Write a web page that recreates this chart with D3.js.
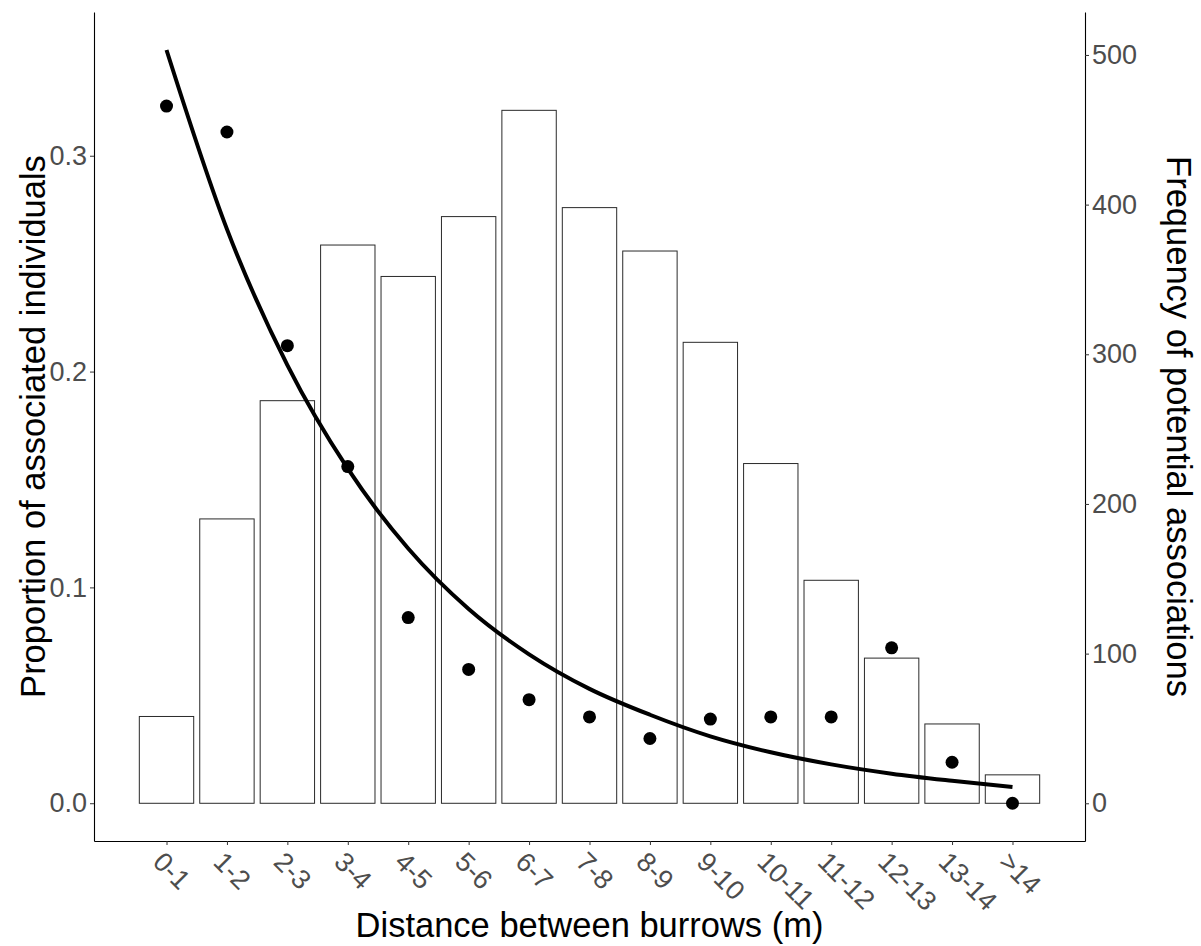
<!DOCTYPE html>
<html>
<head>
<meta charset="utf-8">
<script src="https://cdn.jsdelivr.net/npm/d3@7"></script>
<style>
  body { margin: 0; background: #fff; }
  text { font-family: "Liberation Sans", Arial, sans-serif; }
</style>
</head>
<body>
<div id="d3-container"></div>
<script>
/**
 * CONSTANTS AND GLOBALS
 * */
const width = 1201,
  height = 946,
  margin = { top: 12, bottom: 105, left: 94, right: 116 };

// data
const categories = ["0-1", "1-2", "2-3", "3-4", "4-5", "5-6", "6-7", "7-8",
  "8-9", "9-10", "10-11", "11-12", "12-13", "13-14", ">14"];
// frequency of potential associations (bars, right axis)
const frequency = [58, 190, 269, 373, 352, 392, 463, 398, 369, 308, 227, 149, 97, 53, 19];
// proportion of associated individuals (points, left axis)
const proportion = [0.323, 0.311, 0.212, 0.156, 0.086, 0.062, 0.048, 0.040,
  0.030, 0.039, 0.040, 0.040, 0.072, 0.019, 0.0];
// fitted decay curve, read at each class centre
const fitted = [0.349, 0.266, 0.203, 0.155, 0.118, 0.090, 0.069, 0.053,
  0.041, 0.031, 0.0236, 0.018, 0.0137, 0.0104, 0.0075];

const leftTicks = [0, 0.1, 0.2, 0.3];
const rightTicks = [0, 100, 200, 300, 400, 500];

let svg;

init();

function init() {
  const plotLeft = margin.left,
    plotRight = width - margin.right,
    plotTop = margin.top,
    plotBottom = height - margin.bottom;

  const x = d3.scalePoint()
    .domain(categories)
    .range([plotLeft, plotRight])
    .padding(1.2);

  const yL = d3.scaleLinear()
    .domain([-0.0175, 0.3666])
    .range([plotBottom, plotTop]);

  const yR = d3.scaleLinear()
    .domain([-25.2, 528.7])
    .range([plotBottom, plotTop]);

  const barWidth = x.step() * 0.9;

  svg = d3.select("#d3-container")
    .append("svg")
    .attr("width", width)
    .attr("height", height);

  // bars
  svg.append("g")
    .selectAll("rect")
    .data(categories)
    .join("rect")
    .attr("x", d => x(d) - barWidth / 2)
    .attr("y", (d, i) => yR(frequency[i]))
    .attr("width", barWidth)
    .attr("height", (d, i) => yR(0) - yR(frequency[i]))
    .attr("fill", "#fff")
    .attr("stroke", "#2a2a2a")
    .attr("stroke-width", 1);

  // fitted curve
  const line = d3.line()
    .x((d, i) => x(categories[i]))
    .y(d => yL(d))
    .curve(d3.curveMonotoneX);

  svg.append("path")
    .datum(fitted)
    .attr("d", line)
    .attr("fill", "none")
    .attr("stroke", "#000")
    .attr("stroke-width", 4);

  // points
  svg.append("g")
    .selectAll("circle")
    .data(categories)
    .join("circle")
    .attr("cx", d => x(d))
    .attr("cy", (d, i) => yL(proportion[i]))
    .attr("r", 6.5)
    .attr("fill", "#000");

  // axes
  const styleAxis = g => {
    g.select(".domain").attr("stroke", "#000").attr("stroke-width", 1.1);
    g.selectAll(".tick line").attr("stroke", "#333").attr("stroke-width", 1);
    g.selectAll(".tick text")
      .attr("fill", "#4d4d4d")
      .style("font-size", "27px")
      .style("font-family", "'Liberation Sans', Arial, sans-serif");
  };

  svg.append("g")
    .attr("transform", `translate(${plotLeft},0)`)
    .call(d3.axisLeft(yL).tickValues(leftTicks).tickFormat(d3.format(".1f"))
      .tickSize(4).tickSizeOuter(0).tickPadding(3))
    .call(styleAxis);

  svg.append("g")
    .attr("transform", `translate(${plotRight},0)`)
    .call(d3.axisRight(yR).tickValues(rightTicks)
      .tickSize(4).tickSizeOuter(0).tickPadding(3))
    .call(styleAxis);

  const xAxis = svg.append("g")
    .attr("transform", `translate(0,${plotBottom})`)
    .call(d3.axisBottom(x).tickSize(4).tickSizeOuter(0))
    .call(styleAxis);

  xAxis.selectAll(".tick text")
    .attr("x", 0)
    .attr("y", 0)
    .attr("dy", "0.71em")
    .attr("text-anchor", "start")
    .attr("transform", "translate(-2,9) rotate(45)");

  // titles
  const midY = (plotTop + plotBottom) / 2;

  svg.append("text")
    .attr("transform", `translate(45,${midY}) rotate(-90)`)
    .attr("text-anchor", "middle")
    .style("font-size", "34.5px")
    .attr("fill", "#000")
    .text("Proportion of associated individuals");

  svg.append("text")
    .attr("transform", `translate(1167,${midY}) rotate(90)`)
    .attr("text-anchor", "middle")
    .style("font-size", "34.5px")
    .attr("fill", "#000")
    .text("Frequency of potential associations");

  svg.append("text")
    .attr("x", (plotLeft + plotRight) / 2)
    .attr("y", 937)
    .attr("text-anchor", "middle")
    .style("font-size", "34.5px")
    .attr("fill", "#000")
    .text("Distance between burrows (m)");
}
</script>
</body>
</html>
